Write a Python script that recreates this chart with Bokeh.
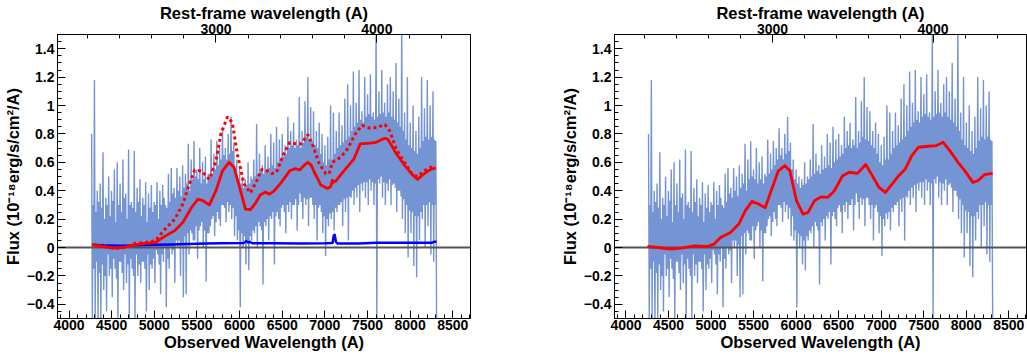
import numpy as np
from bokeh.plotting import figure
from bokeh.models import Range1d, LinearAxis, FixedTicker
from bokeh.layouts import row
from bokeh.embed import file_html
from bokeh.resources import INLINE

# ---------------- data ----------------
# observed spectrum (flux, 1e-18 erg/s/cm2/A), evenly sampled between these wavelengths
spec_start, spec_end = 4265, 8310
spec_flux = [
    0.80, -0.50, 0.30, -0.15, 1.18, -0.50, 0.25, -0.10, 0.40, -0.52, 0.32, -0.18,
    0.45, -0.50, 0.28, -0.12, 0.67, -0.30, 0.20, -0.20, 0.35, -0.45, 0.30, -0.05,
    0.50, -0.20, 0.22, -0.15, 0.40, -0.35, 0.33, -0.08, 0.55, -0.15, 0.18, -0.22,
    0.60, -0.52, 0.30, -0.10, 0.45, -0.10, 0.25, -0.18, 0.62, -0.30, 0.35, -0.05,
    0.38, -0.25, 0.20, -0.12, 0.69, -0.52, 0.30, -0.08, 0.32, -0.15, 0.28, -0.20,
    0.68, -0.50, 0.25, -0.05, 0.42, -0.20, 0.32, -0.12, 0.48, -0.25, 0.22, -0.10,
    0.35, -0.10, 0.30, -0.15, 0.46, -0.45, 0.18, -0.05, 0.38, -0.30, 0.28, -0.12,
    0.44, -0.15, 0.25, -0.08, 0.32, -0.25, 0.30, -0.02, 0.46, -0.05, 0.20, -0.12,
    0.40, -0.33, 0.30, -0.05, 0.44, -0.10, 0.35, 0.00, 0.30, -0.42, 0.28, -0.08,
    0.52, -0.15, 0.32, 0.00, 0.56, -0.05, 0.38, -0.02, 0.42, -0.25, 0.35, 0.05,
    0.56, 0.00, 0.40, 0.05, 0.50, -0.20, 0.36, 0.02, 0.58, -0.35, 0.42, 0.08,
    0.52, -0.33, 0.45, 0.10, 0.73, -0.05, 0.40, 0.12, 0.62, 0.10, 0.48, 0.05,
    0.75, 0.05, 0.50, 0.15, 0.55, -0.08, 0.48, 0.12, 0.70, 0.15, 0.45, 0.18,
    0.60, 0.00, 0.48, 0.12, 0.64, -0.24, 0.45, 0.10, 0.52, 0.10, 0.50, 0.15,
    0.76, 0.20, 0.52, 0.22, 0.66, 0.08, 0.55, 0.18, 0.75, 0.25, 0.58, 0.20,
    0.70, 0.15, 0.62, 0.30, 0.84, 0.30, 0.65, 0.28, 0.70, 0.18, 0.62, 0.32,
    0.80, 0.25, 0.66, 0.30, 0.92, 0.20, 0.68, 0.28, 0.74, 0.08, 0.55, 0.22,
    0.62, 0.05, 0.48, 0.12, 0.55, -0.42, 0.45, 0.10, 0.50, 0.00, 0.42, 0.08,
    0.48, -0.12, 0.44, 0.05, 0.60, -0.16, 0.45, 0.08, 0.50, 0.05, 0.48, 0.12,
    0.62, 0.10, 0.50, 0.15, 0.87, 0.00, 0.52, 0.18, 0.66, 0.15, 0.54, 0.12,
    0.58, -0.26, 0.52, 0.18, 0.72, 0.15, 0.55, 0.20, 0.64, 0.05, 0.56, 0.22,
    0.80, 0.20, 0.58, 0.25, 0.74, -0.12, 0.56, 0.22, 0.85, 0.25, 0.60, 0.20,
    0.76, 0.15, 0.62, 0.28, 0.80, 0.30, 0.64, 0.25, 0.72, 0.10, 0.66, 0.30,
    0.92, 0.25, 0.70, 0.32, 0.82, 0.20, 0.72, 0.30, 0.88, 0.30, 0.70, 0.34,
    0.76, 0.12, 0.72, 0.30, 1.06, 0.38, 0.70, 0.32, 0.82, 0.20, 0.74, 0.35,
    1.03, 0.30, 0.78, 0.34, 1.20, 0.15, 0.76, 0.35, 0.99, 0.35, 0.75, 0.30,
    0.96, 0.20, 0.72, 0.30, 0.82, 0.05, 0.70, 0.28, 0.88, 0.30, 0.66, 0.25,
    0.80, 0.10, 0.60, 0.22, 0.72, -0.06, 0.58, 0.20, 0.78, 0.15, 0.62, 0.24,
    1.00, 0.20, 0.62, 0.25, 0.95, 0.12, 0.66, 0.28, 0.82, 0.25, 0.70, 0.30,
    0.95, 0.30, 0.72, 0.32, 0.86, 0.15, 0.74, 0.34, 1.05, 0.25, 0.76, 0.35,
    1.15, 0.05, 0.78, 0.36, 1.00, 0.35, 0.82, 0.40, 1.24, 0.30, 0.85, 0.42,
    1.02, 0.35, 0.88, 0.44, 1.25, 0.25, 0.90, 0.45, 0.96, 0.40, 0.88, 0.46,
    1.20, 0.35, 0.92, 0.46, 1.08, 0.30, 0.94, 0.48, 1.22, 0.40, 0.92, 0.46,
    0.95, 0.30, 0.90, 0.45, 1.56, -0.52, 0.92, 0.48, 1.10, 0.45, 0.94, 0.50,
    1.25, 0.35, 0.95, 0.46, 1.02, 0.30, 0.92, 0.45, 1.15, 0.40, 0.95, 0.48,
    1.20, 0.30, 0.92, 0.44, 1.10, 0.45, 0.90, 0.42, 1.30, 0.25, 0.88, 0.40,
    1.05, 0.40, 0.85, 0.36, 1.56, 0.20, 0.82, 0.34, 0.95, 0.10, 0.76, 0.30,
    1.20, -0.07, 0.72, 0.26, 0.88, 0.10, 0.70, 0.25, 1.00, -0.13, 0.68, 0.22,
    0.82, -0.21, 0.66, 0.22, 0.92, 0.05, 0.70, 0.25, 1.20, 0.20, 0.75, 0.30,
    0.98, 0.00, 0.78, 0.30, 1.18, 0.15, 0.76, 0.32, 1.00, -0.05, 0.78, 0.30,
    1.10, -0.10, 0.76, 0.30, 0.75, -0.50,
]

# left panel: model (solid red)
fitA_wave = [4273, 4358, 4512, 4627, 4781, 4900, 5011, 5127, 5242, 5338, 5435, 5511,
             5569, 5646, 5723, 5800, 5877, 5935, 6011, 6069, 6127, 6185, 6242, 6300,
             6350, 6400, 6492, 6588, 6650, 6704, 6760, 6800, 6840, 6877, 6954, 7031,
             7070, 7088, 7100, 7130, 7223, 7338, 7415, 7492, 7588, 7650, 7704, 7742,
             7838, 7934, 8031, 8088, 8165, 8242, 8300]
fitA_flux = [0.02, 0.01, -0.005, 0.0, 0.02, 0.03, 0.035, 0.08, 0.12, 0.18, 0.28, 0.34,
             0.33, 0.30, 0.40, 0.54, 0.60, 0.565, 0.40, 0.27, 0.266, 0.31, 0.37, 0.39,
             0.376, 0.395, 0.46, 0.54, 0.555, 0.546, 0.58, 0.60, 0.58, 0.53, 0.44, 0.416,
             0.43, 0.475, 0.46, 0.47, 0.54, 0.62, 0.73, 0.734, 0.738, 0.755, 0.77, 0.76,
             0.66, 0.58, 0.51, 0.48, 0.52, 0.55, 0.56]

# left panel: model (dotted red)
dotA_wave = [4273, 4400, 4550, 4650, 4781, 4900, 5011, 5127, 5242, 5338, 5396, 5473,
             5550, 5646, 5723, 5781, 5858, 5915, 5973, 6050, 6127, 6185, 6262, 6300,
             6377, 6434, 6511, 6588, 6665, 6723, 6800, 6858, 6934, 7011, 7050, 7088,
             7185, 7262, 7358, 7435, 7531, 7608, 7704, 7762, 7838, 7934, 8031, 8088,
             8165, 8242, 8300]
dotA_flux = [0.02, 0.01, -0.005, 0.0, 0.03, 0.035, 0.047, 0.13, 0.20, 0.31, 0.42, 0.546,
             0.54, 0.48, 0.61, 0.80, 0.92, 0.88, 0.66, 0.45, 0.384, 0.45, 0.55, 0.55,
             0.52, 0.53, 0.65, 0.74, 0.73, 0.73, 0.795, 0.72, 0.59, 0.52, 0.52, 0.60,
             0.635, 0.69, 0.80, 0.86, 0.84, 0.845, 0.866, 0.82, 0.69, 0.60, 0.51, 0.50,
             0.54, 0.565, 0.56]

# left panel: error spectrum (blue)
err_wave = [4273, 4400, 4600, 4800, 5000, 5200, 5400, 5600, 5800, 6050, 6080, 6100,
            6120, 6150, 6400, 6700, 7000, 7090, 7105, 7115, 7130, 7150, 7400, 7600,
            8000, 8250, 8280, 8310]
err_flux = [0.02, 0.015, 0.012, 0.015, 0.02, 0.022, 0.025, 0.028, 0.03, 0.032, 0.045, 0.035,
            0.04, 0.03, 0.03, 0.028, 0.03, 0.032, 0.085, 0.09, 0.04, 0.028, 0.028, 0.033,
            0.033, 0.033, 0.04, 0.04]

# right panel: model (solid red)
fitB_wave = [4252, 4376, 4531, 4647, 4802, 4957, 5035, 5112, 5229, 5326, 5403, 5481,
             5558, 5636, 5713, 5791, 5868, 5926, 6004, 6081, 6140, 6217, 6295, 6372,
             6450, 6547, 6624, 6721, 6818, 6895, 6973, 7050, 7128, 7206, 7283, 7360,
             7438, 7554, 7651, 7729, 7806, 7903, 7981, 8078, 8136, 8213, 8310]
fitB_flux = [0.007, 0.0, -0.012, -0.005, 0.012, 0.007, 0.024, 0.07, 0.106, 0.165, 0.26, 0.325,
             0.306, 0.28, 0.41, 0.54, 0.576, 0.54, 0.33, 0.235, 0.247, 0.33, 0.357, 0.353,
             0.40, 0.506, 0.53, 0.522, 0.584, 0.506, 0.424, 0.388, 0.447, 0.506, 0.553, 0.647,
             0.706, 0.713, 0.718, 0.741, 0.682, 0.60, 0.541, 0.459, 0.47, 0.513, 0.522]

zero_level = [0]

obs_range = (3865, 8708)
rest_range = (2015, 4582)
flux_range = (-0.5, 1.5)

x_ticks = [4000, 4500, 5000, 5500, 6000, 6500, 7000, 7500, 8000, 8500]
x_minor = list(range(3900, 8800, 100))
rest_ticks = [3000, 4000]
rest_minor = list(range(2200, 4600, 200))
y_ticks = [-0.4, -0.2, 0, 0.2, 0.4, 0.6, 0.8, 1, 1.2, 1.4]
y_tick_labels = ["\u22120.4", "\u22120.2", "0", "0.2", "0.4", "0.6", "0.8", "1", "1.2", "1.4"]
y_minor = [round(-0.5 + 0.05 * i, 2) for i in range(41)]

x_title = "Observed Wavelength (A)"
top_title = "Rest-frame wavelength (A)"
y_title = "Flux (10\u207b\u00b9\u2078erg/s/cm\u00b2/A)"

FONT = "Liberation Sans"
SPEC_COLOR = "#7594d3"


def style_axis(ax):
    ax.axis_line_color = "black"
    ax.axis_line_width = 1
    ax.major_tick_line_color = "black"
    ax.minor_tick_line_color = "black"
    ax.major_tick_in = 8
    ax.major_tick_out = 0
    ax.minor_tick_in = 4
    ax.minor_tick_out = 0
    ax.major_label_text_font = FONT
    ax.major_label_text_font_style = "bold"
    ax.major_label_text_font_size = "14px"
    ax.major_label_text_color = "black"
    ax.axis_label_text_font = FONT
    ax.axis_label_text_font_style = "bold"
    ax.axis_label_text_font_size = "16.5px"
    ax.axis_label_text_color = "black"
    ax.major_label_standoff = 1
    ax.axis_label_standoff = 0


def make_panel(width, border_right):
    p = figure(width=width, height=354,
               x_range=Range1d(*obs_range), y_range=Range1d(*flux_range),
               output_backend="svg", toolbar_location=None,
               min_border_left=51, min_border_right=border_right,
               min_border_top=34, min_border_bottom=36,
               x_axis_label=x_title, y_axis_label=y_title)
    p.extra_x_ranges = {"rest": Range1d(*rest_range)}
    top = LinearAxis(x_range_name="rest", axis_label=top_title,
                     ticker=FixedTicker(ticks=rest_ticks, minor_ticks=rest_minor))
    p.add_layout(top, "above")
    p.grid.visible = False
    p.outline_line_color = "black"
    p.outline_line_width = 1
    p.outline_line_alpha = 1
    p.background_fill_color = "white"
    p.border_fill_color = "white"

    bottom = p.below[0]
    bottom.ticker = FixedTicker(ticks=x_ticks, minor_ticks=x_minor)
    left = p.left[0]
    left.ticker = FixedTicker(ticks=y_ticks, minor_ticks=y_minor)
    left.major_label_overrides = {v: s for v, s in zip(y_ticks, y_tick_labels)}
    for ax in (bottom, left, top):
        style_axis(ax)
    top.axis_label_standoff = -1
    left.axis_label_standoff = 2
    left.major_label_standoff = 3

    wave = np.linspace(spec_start, spec_end, len(spec_flux))
    p.line(wave, spec_flux, line_color=SPEC_COLOR, line_width=1.4)
    p.hspan(y=zero_level, line_color="#555555", line_width=2)
    return p


p1 = make_panel(557, 87)
p1.line(err_wave, err_flux, line_color="#0000ff", line_width=2.5, line_join="round")
p1.line(dotA_wave, dotA_flux, line_color="#ff0000", line_width=3, line_dash="3 3")
p1.line(fitA_wave, fitA_flux, line_color="#ff0000", line_width=2.8, line_join="round")

p2 = make_panel(470, 1)
p2.line(fitB_wave, fitB_flux, line_color="#ff0000", line_width=2.8, line_join="round")

layout = row(p1, p2)
open("out.html", "w").write(file_html(layout, INLINE))
